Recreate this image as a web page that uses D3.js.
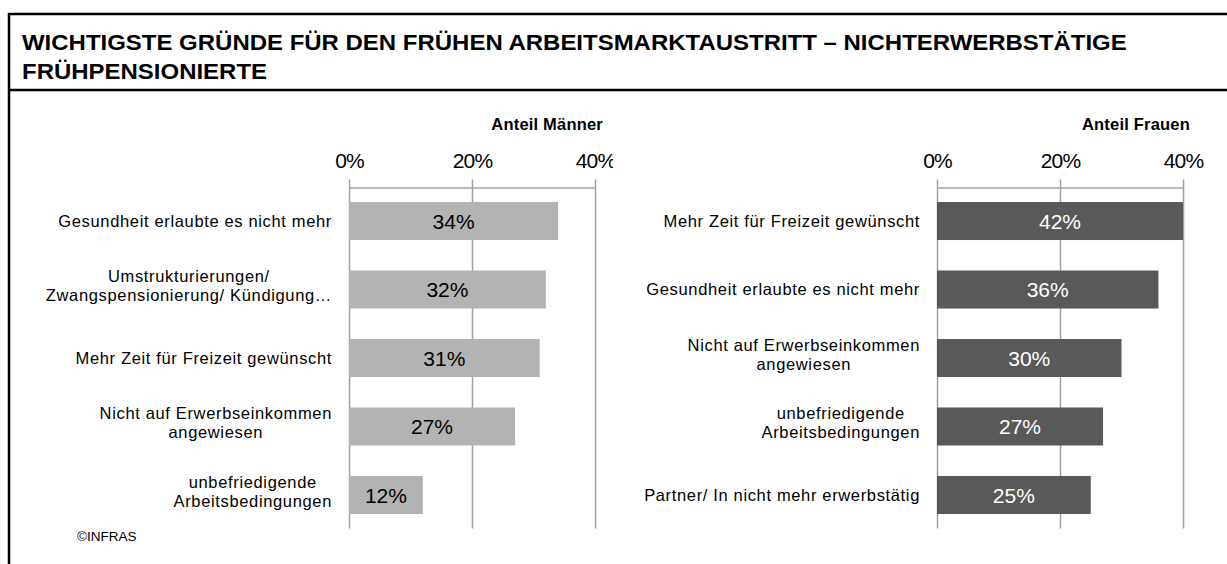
<!DOCTYPE html>
<html>
<head>
<meta charset="utf-8">
<script src="https://cdn.jsdelivr.net/npm/d3@7"></script>
<style>
  body { margin: 0; background: #fff; }
  svg { display: block; font-family: "Liberation Sans", Arial, sans-serif; }
</style>
</head>
<body>
<svg id="chart" width="1227" height="564"></svg>
<script>
// --- Data ---
const titleLines = [
  "WICHTIGSTE GRÜNDE FÜR DEN FRÜHEN ARBEITSMARKTAUSTRITT – NICHTERWERBSTÄTIGE",
  "FRÜHPENSIONIERTE"
];
const menCategories = [
  "Gesundheit erlaubte es nicht mehr",
  "Umstrukturierungen/\nZwangspensionierung/ Kündigung…",
  "Mehr Zeit für Freizeit gewünscht",
  "Nicht auf Erwerbseinkommen\nangewiesen",
  "unbefriedigende\nArbeitsbedingungen"
];
const menValues = [34, 32, 31, 27, 12];
const womenCategories = [
  "Mehr Zeit für Freizeit gewünscht",
  "Gesundheit erlaubte es nicht mehr",
  "Nicht auf Erwerbseinkommen\nangewiesen",
  "unbefriedigende\nArbeitsbedingungen",
  "Partner/ In nicht mehr erwerbstätig"
];
const womenValues = [42, 36, 30, 27, 25];
const tickValues = [0, 20, 40];
const source = "©INFRAS";

const svg = d3.select("#chart");
const width = +svg.attr("width");
const height = +svg.attr("height");

// --- Frame + title ---
svg.append("path")
  .attr("d", `M9,${height} V14 H${width} M9,90 H${width}`)
  .attr("fill", "none")
  .attr("stroke", "#000")
  .attr("stroke-width", 2.5);

// title is a bit wider than plain Arial, so stretch it horizontally
svg.append("g")
  .attr("transform", "translate(22,0) scale(1.09,1)")
  .selectAll("text")
  .data(titleLines)
  .join("text")
  .attr("x", 0)
  .attr("y", (d, i) => 50 + i * 29)
  .attr("font-size", 22)
  .attr("font-weight", "bold")
  .text(d => d);

const defs = svg.append("defs");
defs.append("clipPath").attr("id", "clipLeft")
  .append("rect").attr("x", 0).attr("y", 90).attr("width", 613).attr("height", height);

// --- Panels ---
function drawPanel(cfg) {
  const g = svg.append("g").attr("clip-path", cfg.clip ? `url(#${cfg.clip})` : null);
  const axisY = 187.5, bottom = 528.5;

  const x = d3.scaleLinear()
    .domain([0, 40])
    .range([cfg.x0, cfg.x0 + 246])
    .clamp(true);

  const y = d3.scaleBand()
    .domain(cfg.categories)
    .range([axisY, bottom])
    .paddingInner(0.445)
    .paddingOuter(0.212);

  // gridlines
  g.append("g")
    .attr("transform", `translate(0,${axisY})`)
    .call(d3.axisBottom(x).tickValues(tickValues).tickSize(bottom - axisY).tickFormat(""))
    .call(a => a.select(".domain").remove())
    .selectAll("line")
    .attr("stroke", "#a0a0a0")
    .attr("stroke-width", 1.5);

  // top axis
  const ax = g.append("g")
    .attr("transform", `translate(0,${axisY})`)
    .call(d3.axisTop(x).tickValues(tickValues).tickSize(8).tickSizeOuter(0).tickPadding(12)
      .tickFormat(d => d + "%"));
  ax.selectAll(".domain, line").attr("stroke", "#a0a0a0").attr("stroke-width", 1.5);
  ax.selectAll("text")
    .attr("font-family", "Liberation Sans, Arial, sans-serif")
    .attr("font-size", 21)
    .attr("letter-spacing", -0.8)
    .attr("fill", "#000");

  // axis title
  g.append("text")
    .attr("x", cfg.titleX)
    .attr("y", 130)
    .attr("text-anchor", "end")
    .attr("font-size", 16.5)
    .attr("font-weight", "bold")
    .attr("letter-spacing", 0.2)
    .text(cfg.title);

  // bars
  g.selectAll(".bar")
    .data(cfg.values)
    .join("rect")
    .attr("class", "bar")
    .attr("x", x(0))
    .attr("y", (d, i) => y(cfg.categories[i]))
    .attr("width", d => x(d) - x(0))
    .attr("height", y.bandwidth())
    .attr("fill", cfg.color);

  g.selectAll(".val")
    .data(cfg.values)
    .join("text")
    .attr("class", "val")
    .attr("x", d => (x(0) + x(d)) / 2)
    .attr("y", (d, i) => y(cfg.categories[i]) + y.bandwidth() / 2)
    .attr("dy", "0.36em")
    .attr("text-anchor", "middle")
    .attr("font-size", 21)
    .attr("fill", cfg.textColor)
    .text(d => d + "%");

  // category labels: block right-aligned, lines centred
  cfg.categories.forEach(c => {
    const lines = c.split("\n");
    const cy = y(c) + y.bandwidth() / 2 - (lines.length > 1 ? 3.5 : 0);
    const lg = g.append("g");
    const texts = lines.map((line, i) => lg.append("text")
      .attr("y", cy + (i - (lines.length - 1) / 2) * 19)
      .attr("dy", "0.35em")
      .attr("text-anchor", "middle")
      .attr("font-size", 16.5)
      .attr("letter-spacing", 0.65)
      .text(line));
    const w = d3.max(texts, t => t.node().getComputedTextLength());
    texts.forEach(t => t.attr("x", x(0) - 17 - w / 2));
  });
}

drawPanel({
  categories: menCategories, values: menValues, x0: 349,
  color: "#b3b3b3", textColor: "#000", title: "Anteil Männer", titleX: 603, clip: "clipLeft"
});
drawPanel({
  categories: womenCategories, values: womenValues, x0: 937,
  color: "#595959", textColor: "#fff", title: "Anteil Frauen", titleX: 1190
});

// --- Source ---
svg.append("text")
  .attr("x", 77)
  .attr("y", 541)
  .attr("font-size", 13.5)
  .text(source);
</script>
</body>
</html>
